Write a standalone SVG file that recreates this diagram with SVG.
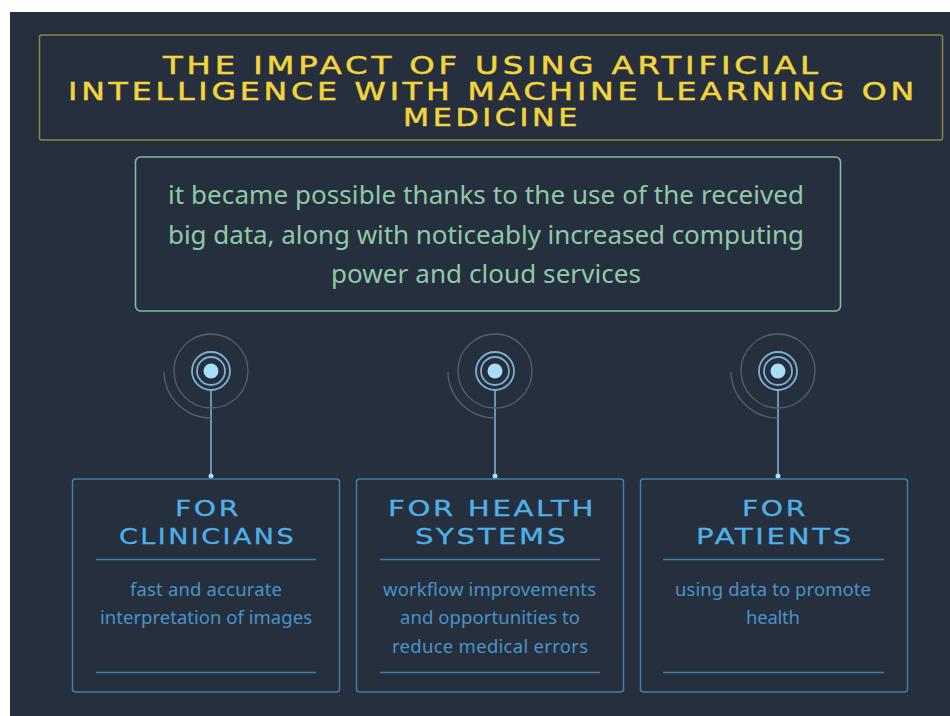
<svg xmlns="http://www.w3.org/2000/svg" width="950" height="716" viewBox="0 0 950 716">
<defs>
<style>
.bg{fill:#262f3e}
.title{font-family:"DejaVu Sans","Liberation Sans",sans-serif;font-size:25px;letter-spacing:3px;fill:#f2d53c;stroke:#f2d53c;stroke-width:.5px}
.lead{font-family:"Noto Sans","Open Sans",sans-serif;font-size:26px;fill:#8fc9a8}
.head{font-family:"DejaVu Sans","Liberation Sans",sans-serif;font-size:22px;letter-spacing:2px;fill:#4fb0e6;stroke:#4fb0e6;stroke-width:.3px}
.body{font-family:"Noto Sans","Open Sans",sans-serif;font-size:18.5px;fill:#4a93c8}
.card{fill:none;stroke:#3f7fa8;stroke-width:1.5}
.rule{stroke:#3f7fa8;stroke-width:1.5}
.arc{fill:none;stroke:#56616f;stroke-width:1.3}
.ring{fill:none;stroke:#7fb0cf;stroke-width:1.8}
.stem{stroke:#7fb0cf;stroke-width:1.6}
.dot{fill:#a9defa}
</style>
<g id="pin">
<circle class="arc" r="37"/>
<path class="arc" d="M-47 1A47 47 0 0 0 0 47"/>
<circle class="ring" r="19"/>
<circle class="ring" r="14"/>
<circle class="dot" r="7.500"/>
</g>
</defs>
<rect x="0" y="0" width="950" height="716" fill="#ffffff"/>
<rect class="bg" x="10" y="12" width="940" height="704"/>

<g id="title-node">
<rect x="39.500" y="35" width="903" height="105" rx="2" fill="none" stroke="#8f8443" stroke-width="1.500"/>
<text class="title"><tspan x="163" y="74" textLength="659" lengthAdjust="spacingAndGlyphs">THE IMPACT OF USING ARTIFICIAL</tspan><tspan x="68" y="100" textLength="850" lengthAdjust="spacingAndGlyphs">INTELLIGENCE WITH MACHINE LEARNING ON</tspan><tspan x="403" y="126" textLength="178" lengthAdjust="spacingAndGlyphs">MEDICINE</tspan></text>
</g>

<g id="lead-node">
<rect x="135.500" y="157" width="705" height="154" rx="5" fill="none" stroke="#7fbf9f" stroke-width="1.600"/>
<text class="lead" x="168" y="204" textLength="636" lengthAdjust="spacing">it became possible thanks to the use of the received</text>
<text class="lead" x="168" y="244" textLength="636" lengthAdjust="spacing">big data, along with noticeably increased computing</text>
<text class="lead" x="331" y="283" textLength="310" lengthAdjust="spacing">power and cloud services</text>
</g>

<g id="connectors">
<line class="stem" x1="211" y1="390" x2="211" y2="475"/>
<line class="stem" x1="495" y1="390" x2="495" y2="475"/>
<line class="stem" x1="778" y1="390" x2="778" y2="475"/>
<circle class="dot" cx="211" cy="476" r="2.500"/>
<circle class="dot" cx="495" cy="476" r="2.500"/>
<circle class="dot" cx="778" cy="476" r="2.500"/>
</g>

<g id="pin-1"><use href="#pin" x="211" y="371"/></g>
<g id="pin-2"><use href="#pin" x="495" y="371"/></g>
<g id="pin-3"><use href="#pin" x="778" y="371"/></g>

<g id="card-clinicians">
<rect class="card" x="72.500" y="479" width="267" height="213" rx="3"/>
<text class="head" x="175" y="516" textLength="66" lengthAdjust="spacingAndGlyphs">FOR</text>
<text class="head" x="119" y="544" textLength="177" lengthAdjust="spacingAndGlyphs">CLINICIANS</text>
<line class="rule" x1="96" y1="559.500" x2="316" y2="559.500"/>
<text class="body" x="130" y="596" textLength="152" lengthAdjust="spacing">fast and accurate</text>
<text class="body" x="100" y="624" textLength="212" lengthAdjust="spacing">interpretation of images</text>
<line class="rule" x1="96" y1="672.500" x2="316" y2="672.500"/>
</g>

<g id="card-health-systems">
<rect class="card" x="356.500" y="479" width="267" height="213" rx="3"/>
<text class="head" x="388" y="516" textLength="208" lengthAdjust="spacingAndGlyphs">FOR HEALTH</text>
<text class="head" x="415" y="544" textLength="153" lengthAdjust="spacingAndGlyphs">SYSTEMS</text>
<line class="rule" x1="380" y1="559.500" x2="600" y2="559.500"/>
<text class="body" x="383" y="596" textLength="213" lengthAdjust="spacing">workflow improvements</text>
<text class="body" x="400" y="624" textLength="180" lengthAdjust="spacing">and opportunities to</text>
<text class="body" x="392" y="653" textLength="196" lengthAdjust="spacing">reduce medical errors</text>
<line class="rule" x1="380" y1="672.500" x2="600" y2="672.500"/>
</g>

<g id="card-patients">
<rect class="card" x="640.500" y="479" width="267" height="213" rx="3"/>
<text class="head" x="742" y="516" textLength="66" lengthAdjust="spacingAndGlyphs">FOR</text>
<text class="head" x="696" y="544" textLength="158" lengthAdjust="spacingAndGlyphs">PATIENTS</text>
<line class="rule" x1="663" y1="559.500" x2="884" y2="559.500"/>
<text class="body" x="675" y="596" textLength="196" lengthAdjust="spacing">using data to promote</text>
<text class="body" x="746" y="624" textLength="54" lengthAdjust="spacing">health</text>
<line class="rule" x1="663" y1="672.500" x2="884" y2="672.500"/>
</g>
</svg>
